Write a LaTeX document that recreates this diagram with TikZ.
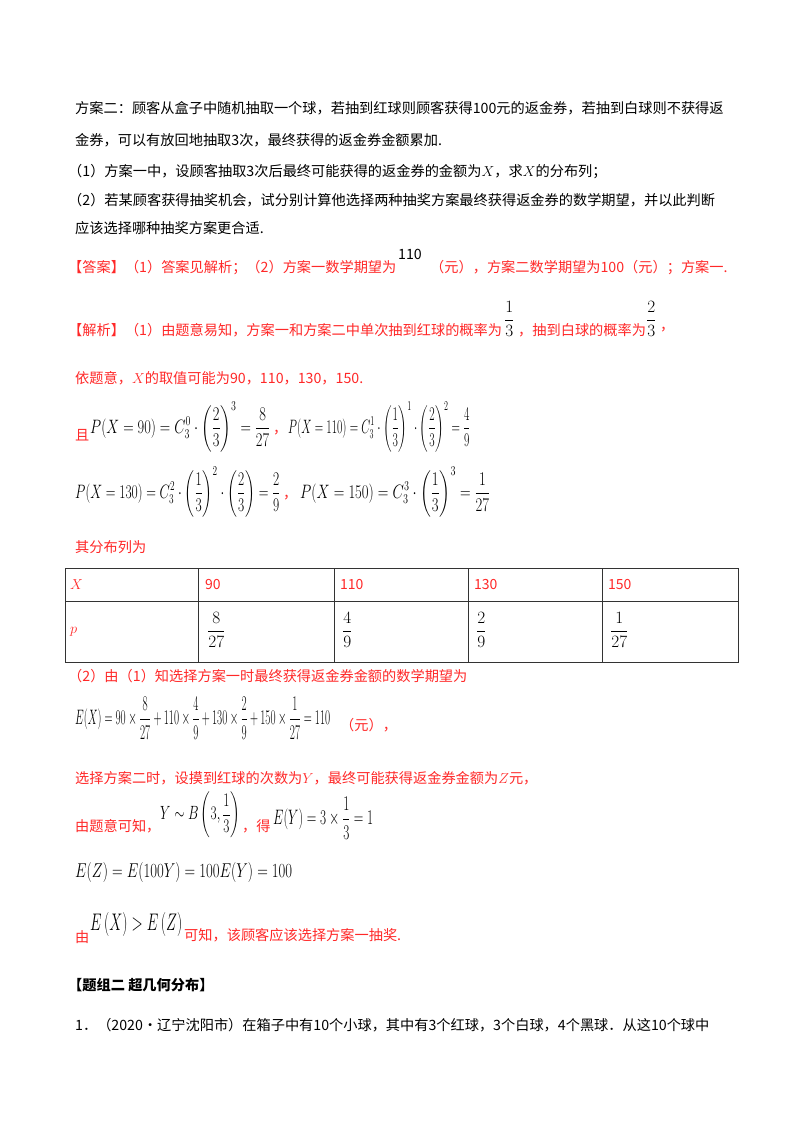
\documentclass[tikz,border=0pt]{standalone}
\usepackage{amsmath}
\usepackage{graphicx}
\usepackage{fontspec}
\setmainfont{Noto Sans CJK SC}
\definecolor{ans}{RGB}{255,40,40}
\newcommand\rbx[3]{\resizebox*{#1pt}{#2pt}{$\displaystyle #3$}}
\begin{document}
\begin{tikzpicture}[x=1pt,y=-1pt,
  txt/.style={anchor=west,inner sep=0pt,font=\fontsize{14.2}{16}\selectfont},
  rtxt/.style={txt,text=ans},
  mth/.style={anchor=west,inner sep=0pt,font=\fontsize{18}{20}\selectfont},
  cell/.style={anchor=west,inner sep=0pt,font=\fontsize{14}{16}\selectfont,text=ans}]
\useasboundingbox[fill=white] (0,0) rectangle (800,1132);
\node[txt] (l1) at (75,108) {方案二：顾客从盒子中随机抽取一个球，若抽到红球则顾客获得100元的返金券，若抽到白球则不获得返};
\node[txt] (l2) at (75,140) {金券，可以有放回地抽取3次，最终获得的返金券金额累加.};
\node[txt] (l3) at (68,172) {（1）方案一中，设顾客抽取3次后最终可能获得的返金券的金额为$X$，求$X$的分布列；};
\node[txt] (l4) at (68,200) {（2）若某顾客获得抽奖机会，试分别计算他选择两种抽奖方案最终获得返金券的数学期望，并以此判断};
\node[txt] (l5) at (75,228) {应该选择哪种抽奖方案更合适.};
\node[rtxt] (a1) at (68,268) {【答案】（1）答案见解析；（2）方案一数学期望为};
\node[txt] (a2) at (398,254) {110};
\node[rtxt] (a3) at (430,268) {（元），方案二数学期望为100（元）；方案一.};
\node[rtxt] (j1) at (68,330) {【解析】（1）由题意易知，方案一和方案二中单次抽到红球的概率为};
\node[mth] (j2) at (504,319) {$\dfrac{1}{3}$};
\node[rtxt] (j3) at (518,330) {，抽到白球的概率为};
\node[mth] (j4) at (646,319) {$\dfrac{2}{3}$};
\node[rtxt] (j5) at (660,330) {，};
\node[rtxt] (y1) at (75,378) {依题意，$X$的取值可能为90，110，130，150.};
\node[rtxt] (q1) at (75,435) {且};
\node[mth] (q2) at (90,427) {\rbx{180}{50}{P(X=90)=C_3^0\cdot\left(\dfrac{2}{3}\right)^3=\dfrac{8}{27}}};
\node[rtxt] (q3) at (273,433) {，};
\node[mth] (q4) at (288,427) {\rbx{182}{50}{P(X=110)=C_3^1\cdot\left(\dfrac{1}{3}\right)^1\cdot\left(\dfrac{2}{3}\right)^2=\dfrac{4}{9}}};
\node[mth] (q5) at (75,492) {\rbx{205}{50}{P(X=130)=C_3^2\cdot\left(\dfrac{1}{3}\right)^2\cdot\left(\dfrac{2}{3}\right)=\dfrac{2}{9}}};
\node[rtxt] (q6) at (283,498) {，};
\node[mth] (q7) at (300,492) {\rbx{190}{50}{P(X=150)=C_3^3\cdot\left(\dfrac{1}{3}\right)^3=\dfrac{1}{27}}};
\node[rtxt] (f1) at (75,547) {其分布列为};
\draw[line width=0.9pt,black!80] (65,568) rectangle (738,662);
\draw[line width=0.9pt,black!80] (65,601) -- (738,601);
\foreach \x in {198,334,468,602} \draw[line width=0.9pt,black!80] (\x,568) -- (\x,662);
\node[cell] (c0) at (70,585) {$X$};
\node[cell] (c1) at (205,585) {90};
\node[cell] (c2) at (340,585) {110};
\node[cell] (c3) at (474,585) {130};
\node[cell] (c4) at (608,585) {150};
\node[cell] (d0) at (70,632) {$p$};
\node[mth] (d1) at (207,630) {$\dfrac{8}{27}$};
\node[mth] (d2) at (342,630) {$\dfrac{4}{9}$};
\node[mth] (d3) at (476,630) {$\dfrac{2}{9}$};
\node[mth] (d4) at (610,630) {$\dfrac{1}{27}$};
\node[rtxt] (e1) at (68,676) {（2）由（1）知选择方案一时最终获得返金券金额的数学期望为};
\node[mth] (e2) at (75,718) {\rbx{255}{42}{E(X)=90\times\dfrac{8}{27}+110\times\dfrac{4}{9}+130\times\dfrac{2}{9}+150\times\dfrac{1}{27}=110}};
\node[rtxt] (e3) at (340,725) {（元），};
\node[rtxt] (s1) at (75,778) {选择方案二时，设摸到红球的次数为$Y$，最终可能获得返金券金额为$Z$元，};
\node[rtxt] (s2) at (75,826) {由题意可知，};
\node[mth] (s3) at (160,815) {\rbx{80}{46}{Y\sim B\left(3,\dfrac{1}{3}\right)}};
\node[rtxt] (s4) at (242,826) {，得};
\node[mth] (s5) at (273,818) {\rbx{100}{42}{E(Y)=3\times\dfrac{1}{3}=1}};
\node[mth] (z1) at (75,872) {\rbx{217}{20}{E(Z)=E(100Y)=100E(Y)=100}};
\node[rtxt] (b1) at (75,937) {由};
\node[mth] (b2) at (90,924) {\rbx{92}{24}{E\left(X\right)>E\left(Z\right)}};
\node[rtxt] (b3) at (184,935) {可知，该顾客应该选择方案一抽奖.};
\node[txt,font=\fontsize{14.2}{16}\selectfont\bfseries] (g1) at (68,985) {【题组二\ 超几何分布】};
\node[txt] (g2) at (75,1025) {1．（2020•辽宁沈阳市）在箱子中有10个小球，其中有3个红球，3个白球，4个黑球．从这10个球中};
\end{tikzpicture}
\end{document}
